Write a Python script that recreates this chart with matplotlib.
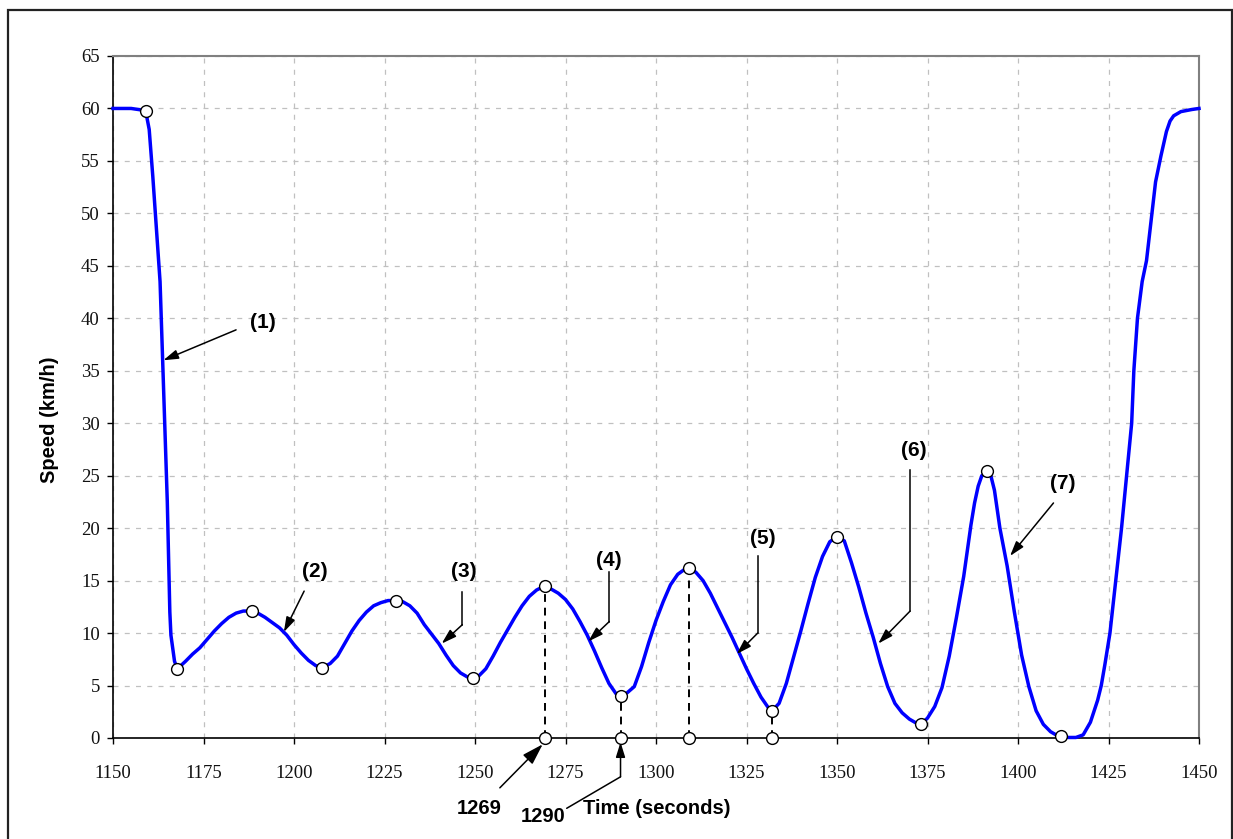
import matplotlib
matplotlib.use("Agg")
import matplotlib.pyplot as plt
from matplotlib.patches import Rectangle
from matplotlib import font_manager

# ---------------- data ----------------
time_s = [1150, 1155, 1159, 1160, 1161, 1162, 1163, 1164, 1165, 1165.7, 1166, 1167, 1167.8,
          1170, 1172, 1174, 1176, 1178, 1180, 1182, 1184, 1186, 1188.3,
          1190, 1192, 1194, 1196, 1198, 1200, 1202, 1204, 1206, 1207.8,
          1210, 1212, 1214, 1216, 1218, 1220, 1222, 1224, 1226, 1228.3,
          1230, 1232, 1234, 1236, 1238, 1240, 1242, 1244, 1246, 1248, 1249.4,
          1251, 1253, 1255, 1257, 1259, 1261, 1263, 1265, 1267, 1269.3,
          1271, 1273, 1275, 1277, 1279, 1281, 1283, 1285, 1287, 1289, 1290.2,
          1292, 1294, 1296, 1298, 1300, 1302, 1304, 1306, 1308, 1309.1,
          1311, 1313, 1315, 1317, 1319, 1321, 1323, 1325, 1327, 1329, 1331, 1332.1,
          1334, 1336, 1338, 1340, 1342, 1344, 1346, 1348, 1350,
          1352, 1354, 1356, 1358, 1360, 1362, 1364, 1366, 1368, 1370, 1372, 1373.2,
          1375, 1377, 1379, 1381, 1383, 1385, 1387, 1388, 1389, 1390, 1391.4,
          1392.5, 1393.5, 1395, 1397, 1399, 1401, 1403, 1405, 1407, 1409, 1411, 1411.8,
          1414, 1416, 1418, 1420, 1422, 1423, 1424, 1425.4, 1427, 1428.6, 1430,
          1431.4, 1432, 1433, 1434.3, 1435.5, 1437, 1438, 1439.5, 1441, 1442, 1443, 1445, 1448, 1450]
speed_kmh = [60.0, 60.0, 59.8, 58.0, 53.5, 48.5, 43.5, 33.0, 22.5, 12.0, 9.8, 7.3, 6.6,
             7.3, 8.0, 8.6, 9.4, 10.2, 10.9, 11.5, 11.9, 12.1, 12.1,
             11.9, 11.5, 11.0, 10.5, 9.8, 8.9, 8.1, 7.4, 6.9, 6.7,
             7.1, 7.8, 9.0, 10.2, 11.2, 12.0, 12.6, 12.9, 13.1, 13.1,
             13.0, 12.6, 11.9, 10.8, 9.9, 9.0, 7.9, 6.9, 6.2, 5.8, 5.7,
             5.9, 6.6, 7.8, 9.1, 10.3, 11.5, 12.6, 13.5, 14.1, 14.5,
             14.2, 13.8, 13.2, 12.3, 11.1, 9.8, 8.3, 6.7, 5.2, 4.2, 4.0,
             4.3, 4.9, 6.8, 9.1, 11.2, 13.0, 14.6, 15.6, 16.1, 16.2,
             15.8, 15.0, 13.8, 12.4, 11.0, 9.6, 8.1, 6.6, 5.2, 3.9, 2.9, 2.6,
             3.3, 5.2, 7.7, 10.2, 12.8, 15.3, 17.3, 18.7, 19.2,
             18.8, 16.7, 14.4, 11.9, 9.6, 7.1, 4.9, 3.3, 2.4, 1.8, 1.4, 1.3,
             1.9, 3.0, 4.8, 7.8, 11.5, 15.4, 20.3, 22.4, 24.0, 25.0, 25.4,
             25.0, 23.6, 20.0, 16.4, 12.0, 7.9, 4.9, 2.6, 1.3, 0.6, 0.2, 0.15,
             0.05, 0.05, 0.3, 1.5, 3.6, 5.0, 7.0, 10.0, 15.0, 20.0, 25.0,
             30.0, 35.0, 40.0, 43.5, 45.5, 50.0, 53.0, 55.5, 57.8, 58.8, 59.3, 59.7, 59.9, 60.0]

# turning points (open circles on the curve)
turn_t = [1159, 1167.8, 1188.3, 1207.8, 1228.3, 1249.4, 1269.3, 1290.2, 1309.1,
          1332.1, 1350, 1373.2, 1391.4, 1411.8]
turn_v = [59.8, 6.6, 12.1, 6.7, 13.1, 5.7, 14.5, 4.0, 16.2, 2.6, 19.2, 1.3, 25.4, 0.15]

# dropped projections to the time axis
drop_t = [1269.3, 1290.2, 1309.1, 1332.1]
drop_v = [14.5, 4.0, 16.2, 2.6]

# phase labels: text, text position, arrow start, optional elbow, arrow head
phase_labels = ["(1)", "(2)", "(3)", "(4)", "(5)", "(6)", "(7)"]
label_xy = [(1191.4, 39.6), (1205.8, 15.85), (1247.0, 15.9), (1287.1, 16.9),
            (1329.6, 19.0), (1371.3, 27.4), (1412.3, 24.3)]
arrow_from = [(1184.0, 38.9), (1202.8, 14.0), (1246.5, 13.9), (1287.1, 15.85),
              (1328.1, 17.3), (1370.2, 25.5), (1409.8, 22.4)]
elbow = [None, None, (1246.5, 10.8), (1287.1, 11.1), (1328.1, 10.0), (1370.2, 12.1), None]
arrow_to = [(1163.9, 36.0), (1197.2, 10.1), (1240.8, 9.0), (1281.3, 9.2),
            (1322.3, 8.0), (1361.4, 9.0), (1397.8, 17.35)]

time_labels = ["1269", "1290"]

# ---------------- figure ----------------
W, H = 1233, 839
fig = plt.figure(figsize=(W / 100, H / 100), dpi=100)
ax = fig.add_axes([113 / W, 1 - 738 / H, (1199 - 113) / W, (738 - 56) / H])

avail = {(f.name, f.weight) for f in font_manager.fontManager.ttflist}
names = {n for n, _ in avail}
if any(n == "Liberation Sans Narrow" and (w == 700 or w == "bold") for n, w in avail):
    bold_family = ["Liberation Sans Narrow", "DejaVu Sans"]
elif "Liberation Sans" in names:
    bold_family = ["Liberation Sans", "DejaVu Sans"]
else:
    bold_family = ["DejaVu Sans"]
serif_family = ["Liberation Serif", "DejaVu Serif"] if "Liberation Serif" in names else ["DejaVu Serif"]

ax.set_xlim(1150, 1450)
ax.set_ylim(0, 65)
ax.set_xticks(range(1150, 1451, 25))
ax.set_yticks(range(0, 66, 5))
ax.grid(True, color="#c0c0c0", linestyle=(0, (4, 5)), linewidth=0.9)
ax.set_axisbelow(True)

for s in ["top", "right"]:
    ax.spines[s].set_color("#808080")
    ax.spines[s].set_linewidth(1.5)
for s in ["left", "bottom"]:
    ax.spines[s].set_color("black")
    ax.spines[s].set_linewidth(1.2)

ax.tick_params(axis="both", direction="out", length=4.5, width=1, color="black",
               labelsize=13.5)
ax.tick_params(axis="x", pad=15)
ax.tick_params(axis="y", pad=5)
for lab in ax.get_xticklabels() + ax.get_yticklabels():
    lab.set_fontfamily(serif_family)
    lab.set_color("#111111")

# dashed projections
for t, v in zip(drop_t, drop_v):
    ax.plot([t, t], [0, v], color="black", linestyle=(0, (4, 3)), linewidth=1.4, zorder=3)

ax.plot(time_s, speed_kmh, color="#0000ff", linewidth=2.5, zorder=4, clip_on=False,
        solid_joinstyle="round")
ax.plot(turn_t, turn_v, linestyle="none", marker="o", markersize=8.5,
        markerfacecolor="white", markeredgecolor="black", markeredgewidth=1.0,
        zorder=5, clip_on=False)
ax.plot(drop_t, [0] * len(drop_t), linestyle="none", marker="o", markersize=8.5,
        markerfacecolor="white", markeredgecolor="black", markeredgewidth=1.0,
        zorder=5, clip_on=False)

head = "-|>,head_length=0.9,head_width=0.28"

# phase labels and arrows
for txt, lxy, a0, el, a1 in zip(phase_labels, label_xy, arrow_from, elbow, arrow_to):
    ax.text(lxy[0], lxy[1], txt, ha="center", va="center", fontsize=15,
            fontweight="bold", family=bold_family, zorder=6)
    start = a0
    if el is not None:
        ax.plot([a0[0], el[0]], [a0[1], el[1]], color="black", linewidth=1.1, zorder=6)
        start = el
    ax.annotate("", xy=a1, xytext=start,
                arrowprops=dict(arrowstyle=head, color="black", linewidth=1.1,
                                shrinkA=0, shrinkB=0),
                zorder=6)

# time annotations below the axis
ax.annotate(time_labels[0], xy=(drop_t[0] - 0.6, -0.6), xycoords="data",
            xytext=(479, H - 809), textcoords="figure pixels",
            ha="center", va="center", fontsize=14.5, fontweight="bold", family=bold_family,
            arrowprops=dict(arrowstyle=head, color="black", linewidth=1.1,
                            shrinkA=9, shrinkB=0),
            annotation_clip=False)
ax.text(543, H - 817, time_labels[1], transform=None, ha="center", va="center",
        fontsize=14.5, fontweight="bold", family=bold_family)
x1290 = drop_t[1]
ax.annotate("", xy=(x1290, -0.4), xycoords="data",
            xytext=(x1290, -3.7), textcoords="data",
            arrowprops=dict(arrowstyle=head, color="black", linewidth=1.1,
                            shrinkA=0, shrinkB=0),
            annotation_clip=False)
ax.annotate("", xy=(x1290, -3.7), xycoords="data",
            xytext=(566.7, H - 808.3), textcoords="figure pixels",
            arrowprops=dict(arrowstyle="-", color="black", linewidth=1.1,
                            shrinkA=0, shrinkB=0),
            annotation_clip=False)

# axis titles
fig.text(657 / W, 1 - 808 / H, "Time (seconds)", ha="center", va="center",
         fontsize=14.5, fontweight="bold", family=bold_family)
fig.text(50 / W, 1 - 420 / H, "Speed (km/h)", ha="center", va="center", rotation=90,
         fontsize=14.5, fontweight="bold", family=bold_family)

# outer frame
fig.patches.append(Rectangle((8 / W, -0.05), (1232 - 8) / W, (1 - 10 / H) + 0.05,
                             transform=fig.transFigure, fill=False,
                             edgecolor="#222222", linewidth=1.6, clip_on=False))

fig.savefig("out.png", dpi=100)
